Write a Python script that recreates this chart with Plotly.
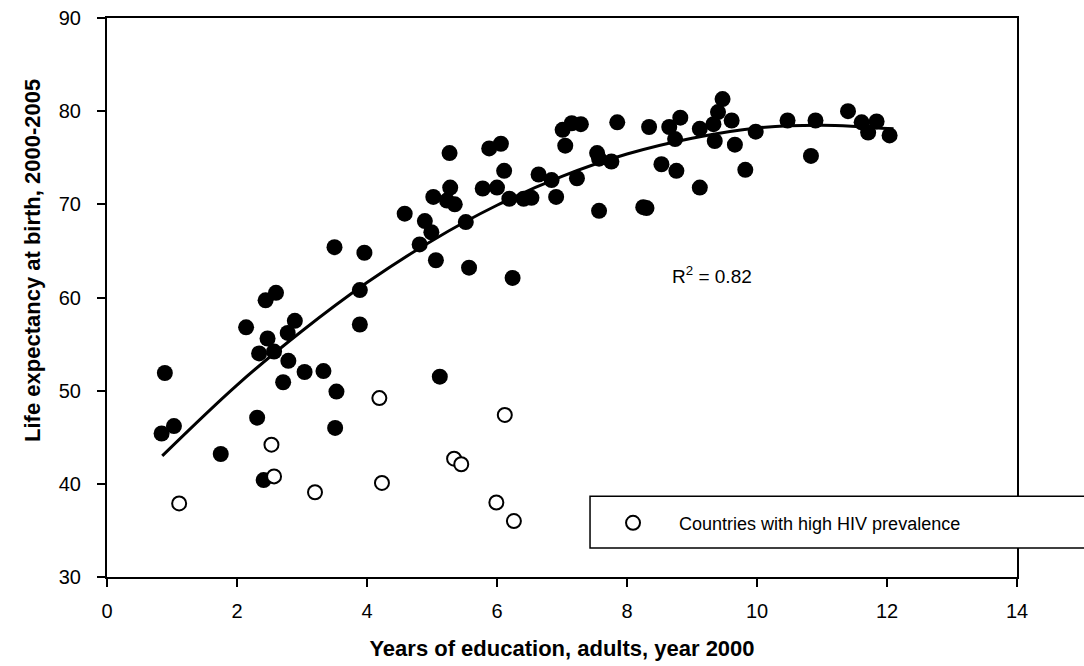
import plotly.graph_objects as go

# Countries (filled) - years of education vs life expectancy
edu_main = [0.89, 0.84, 1.03, 1.75, 2.14, 2.44, 2.60, 2.47, 2.34, 2.57, 2.89, 2.78, 2.79, 2.31,
            2.41, 3.04, 3.33, 2.71, 3.53, 3.51, 3.89, 3.89, 3.50, 3.96, 4.58, 4.89, 4.99, 4.81,
            5.02, 5.28, 5.23, 5.35, 5.52, 5.27, 5.06, 5.57, 6.24, 5.78, 6.00, 6.11, 5.88, 6.06,
            6.19, 6.41, 6.53, 6.64, 6.84, 6.91, 7.01, 7.15, 7.29, 7.05, 7.23, 7.54, 7.57, 7.76,
            7.57, 7.85, 8.25, 8.30, 8.34, 8.53, 8.65, 8.76, 8.82, 8.74, 9.12, 9.12, 9.47, 9.40,
            9.33, 9.61, 9.35, 9.66, 9.82, 9.98, 10.47, 10.90, 10.83, 11.40, 11.61, 11.84, 11.71,
            12.04, 5.12]
life_main = [51.9, 45.4, 46.2, 43.2, 56.8, 59.7, 60.5, 55.6, 54.0, 54.2, 57.5, 56.2, 53.2, 47.1,
             40.4, 52.0, 52.1, 50.9, 49.9, 46.0, 60.8, 57.1, 65.4, 64.8, 69.0, 68.2, 67.0, 65.7,
             70.8, 71.8, 70.4, 70.0, 68.1, 75.5, 64.0, 63.2, 62.1, 71.7, 71.8, 73.6, 76.0, 76.5,
             70.6, 70.6, 70.7, 73.2, 72.6, 70.8, 78.0, 78.7, 78.6, 76.3, 72.8, 75.5, 74.9, 74.6,
             69.3, 78.8, 69.7, 69.6, 78.3, 74.3, 78.3, 73.6, 79.3, 77.0, 71.8, 78.1, 81.3, 79.9,
             78.6, 79.0, 76.8, 76.4, 73.7, 77.8, 79.0, 79.0, 75.2, 80.0, 78.8, 78.9, 77.7,
             77.4, 51.5]

# Countries with high HIV prevalence (open)
edu_hiv = [1.11, 2.53, 2.57, 3.20, 4.19, 4.23, 6.12, 5.34, 5.45, 5.99, 6.26]
life_hiv = [37.9, 44.2, 40.8, 39.1, 49.2, 40.1, 47.4, 42.7, 42.1, 38.0, 36.0]

# Trend line
trend_x = [0.85, 2, 3, 4, 5, 6, 7, 8, 9, 10, 11, 12.1]
trend_y = [43.0, 50.6, 56.4, 61.6, 66.1, 69.9, 73.0, 75.4, 77.1, 78.2, 78.5, 78.1]

x_ticks = [0, 2, 4, 6, 8, 10, 12, 14]
y_ticks = [30, 40, 50, 60, 70, 80, 90]

FONT = "Arial, Liberation Sans, sans-serif"

fig = go.Figure()
fig.add_trace(go.Scatter(
    x=trend_x, y=trend_y, mode="lines", line=dict(color="black", width=3, shape="spline"),
    showlegend=False, hoverinfo="skip"))
fig.add_trace(go.Scatter(
    x=edu_main, y=life_main, mode="markers",
    marker=dict(color="black", size=16, line=dict(width=0)),
    showlegend=False))
fig.add_trace(go.Scatter(
    x=edu_hiv, y=life_hiv, mode="markers", name="Countries with high HIV prevalence",
    marker=dict(color="white", size=14, symbol="circle", line=dict(color="black", width=2)),
    showlegend=True))

fig.add_annotation(x=9.31, y=62.4, xref="x", yref="y", text="R<sup>2</sup> = 0.82",
                   showarrow=False, font=dict(family=FONT, size=19, color="black"))

# y-axis title (placed like the reference, slightly above the axis centre)
fig.add_annotation(x=-0.098, y=0.566, xref="paper", yref="paper", textangle=-90,
                   text="<b>Life expectancy at birth, 2000-2005</b>", showarrow=False,
                   font=dict(family=FONT, size=22, color="black"))

# legend frame (extends past the right edge as in the reference)
fig.add_shape(type="rect", xref="paper", yref="paper", x0=0.5308, x1=1.12, y0=0.0518, y1=0.1446,
              line=dict(color="black", width=1.5), fillcolor="white", layer="above")

fig.update_xaxes(range=[0, 14], tickvals=x_ticks, ticks="outside", ticklen=8, tickwidth=1.5,
                 tickcolor="black", showline=True, linecolor="black", linewidth=2, mirror=True,
                 showgrid=False, zeroline=False, ticklabelstandoff=7,
                 tickfont=dict(family=FONT, size=20, color="black"),
                 title=dict(text="<b>Years of education, adults, year 2000</b>", standoff=20,
                            font=dict(family=FONT, size=22, color="black")))
fig.update_yaxes(range=[30, 90], tickvals=y_ticks, ticks="outside", ticklen=8, tickwidth=1.5,
                 tickcolor="black", showline=True, linecolor="black", linewidth=2, mirror=True,
                 showgrid=False, zeroline=False, ticklabelstandoff=12,
                 tickfont=dict(family=FONT, size=20, color="black"))

fig.update_layout(
    width=1084, height=666,
    margin=dict(l=107, r=67, t=18, b=89, autoexpand=False),
    paper_bgcolor="white", plot_bgcolor="white",
    legend=dict(x=0.5275, y=0.0964, xanchor="left", yanchor="middle",
                bgcolor="rgba(0,0,0,0)", borderwidth=0,
                font=dict(family=FONT, size=18, color="black"),
                itemwidth=82),
)

fig.write_html("out.html")
